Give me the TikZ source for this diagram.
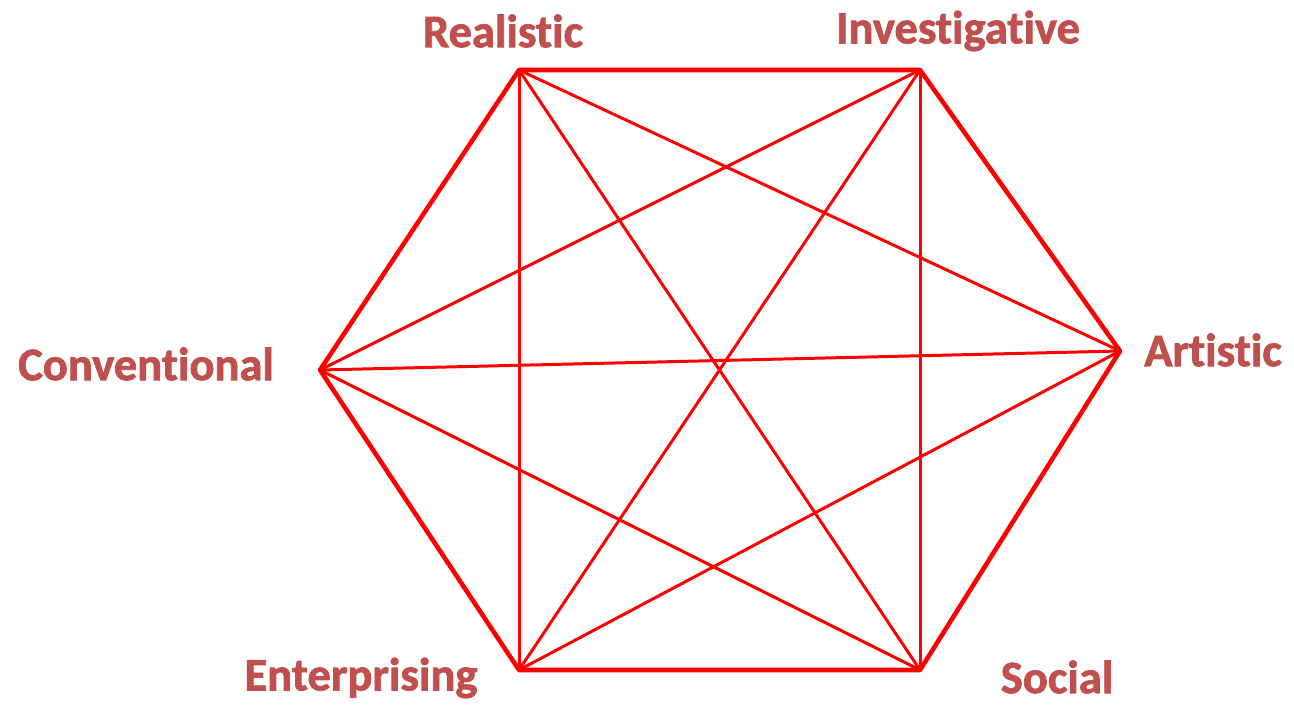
\documentclass[tikz,border=0pt]{standalone}
\usepackage{fontspec}
\newfontfamily\labelfont[FakeBold=1.6, Ligatures=NoCommon]{Carlito}
\usepackage{tikz}
\usetikzlibrary{calc}
\definecolor{cedge}{HTML}{FF0000}
\definecolor{clabel}{HTML}{C0504D}
\tikzset{
  vert/.style={circle, inner sep=0pt, minimum size=0pt},
  lab/.style={font=\labelfont\bfseries\fontsize{26.5}{30}\selectfont, text=clabel, inner sep=0pt},
  rim/.style={draw=cedge, line width=2.6pt, line join=round},
  chord/.style={draw=cedge, line width=1.7pt},
}
\begin{document}
\begin{tikzpicture}[x=0.02cm, y=-0.02cm]
\useasboundingbox (0,0) rectangle (1294,705);
% corners of the hexagon
\node[vert] (R) at (519,70) {};
\node[vert] (I) at (920,70) {};
\node[vert] (A) at (1120,351) {};
\node[vert] (S) at (920,670) {};
\node[vert] (E) at (519,670) {};
\node[vert] (C) at (320,370) {};
% labels
\node[lab] (lr) at (503,31) {Realistic};
\node[lab] (li) at (958,31) {Investigative};
\node[lab] (la) at (1213,350) {Artistic};
\node[lab] (ls) at (1057,677) {Social};
\node[lab] (le) at (361,678) {Enterprising};
\node[lab] (lc) at (146,364) {Conventional};
% chords
\foreach \a/\b in {R/A, R/S, R/E, I/C, I/E, I/S, A/C, A/E, C/S}
  \draw[chord] (\a.center) -- (\b.center);
% outer hexagon
\draw[rim] (R.center) -- (I.center) -- (A.center) -- (S.center) -- (E.center) -- (C.center) -- cycle;
\end{tikzpicture}
\end{document}
